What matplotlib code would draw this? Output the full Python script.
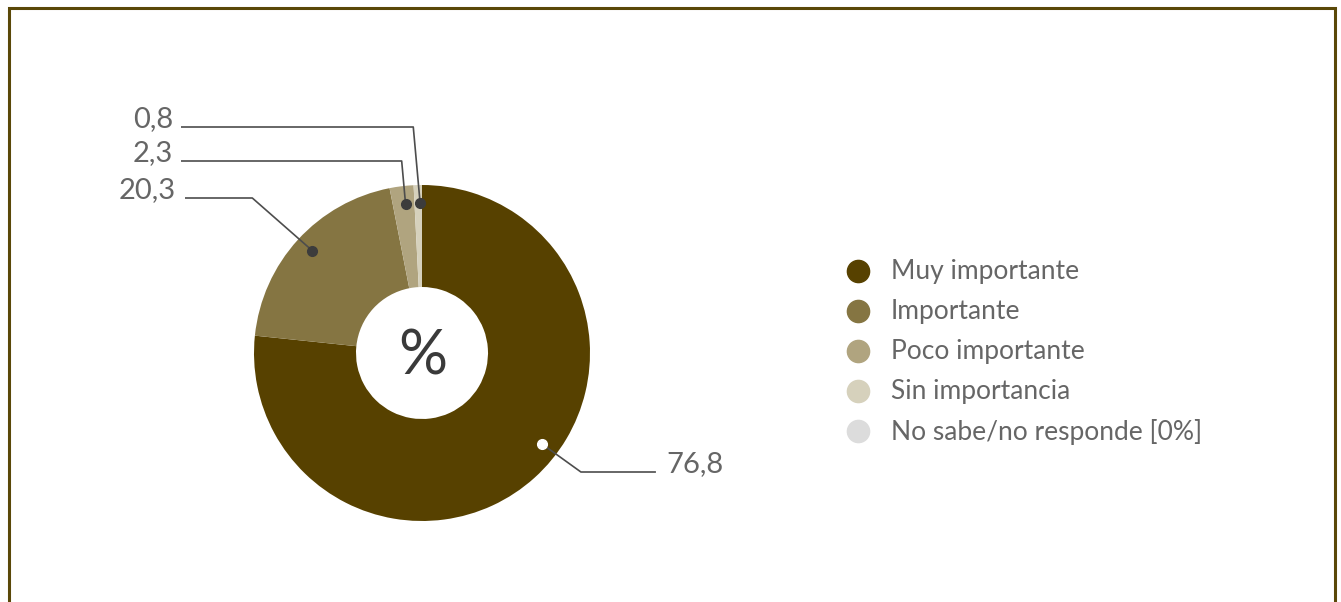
import matplotlib.pyplot as plt
import numpy as np

# survey answers (%)
categorias = ["Muy importante", "Importante", "Poco importante",
              "Sin importancia", "No sabe/no responde [0%]"]
valores = [76.8, 20.3, 2.3, 0.8, 0.0]
etiquetas = ["76,8", "20,3", "2,3", "0,8"]
colores = ["#574100", "#857542", "#b0a47f", "#d6d1bc", "#dcdcdc"]

W, H = 1341, 602
fig = plt.figure(figsize=(W / 100, H / 100), dpi=100)
ax = fig.add_axes([0, 0, 1, 1])

cx, cy = 422, H - 353
radio = 168
hueco = 66

ax.pie(valores, colors=colores, startangle=90, counterclock=False,
       radius=radio, center=(cx, cy),
       wedgeprops=dict(width=radio - hueco, linewidth=0))

ax.text(cx + 1, cy - 4, "%", ha="center", va="center", fontsize=44,
        color="#3a3a3a", family="Lato")

# leader lines: dot in the ring, elbow, horizontal run, label
r_punto = 150
pos_en_sector = [0.46, 0.5, 0.5, 0.5]
codo_y = [472, 198, 161, 127]
acum = np.cumsum([0] + valores[:-1])
txt_color = "#666666"
linea = "#4d4d4d"
for i, lab in enumerate(etiquetas):
    f = acum[i] + valores[i] * pos_en_sector[i]
    ang = np.deg2rad(90 - f / 100 * 360)
    px = cx + r_punto * np.cos(ang)
    py = cy + r_punto * np.sin(ang)
    ey = H - codo_y[i]
    if i == 0:
        ex = px + (py - ey) * 1.39
        xs = [px, ex, ex + 75]
        tx, ha = ex + 85, "left"
    elif i == 1:
        ex = px - (ey - py) * 1.14
        xs = [px, ex, 185]
        tx, ha = 176, "right"
    else:
        xs = [px, px - (ey - py) * 0.09, 181]
        tx, ha = 173, "right"
    ys = [py, ey, ey]
    ax.plot(xs, ys, color=linea, lw=1.2, solid_capstyle="butt", zorder=3)
    fc = "white" if i == 0 else "#3c3c3c"
    ax.plot(px, py, "o", ms=7, mfc=fc, mec=fc, zorder=4)
    ax.text(tx, ey, lab, ha=ha, va="baseline",
            fontsize=21, color=txt_color, family="Lato")

# legend
ley_x, ley_y0, paso = 858, 271, 40
for i, (cat, col) in enumerate(zip(categorias, colores)):
    y = H - (ley_y0 + i * paso)
    ax.plot(ley_x, y, "o", ms=16, mfc=col, mec=col)
    ax.text(ley_x + 33, y - 1, cat, ha="left", va="center", fontsize=19,
            color=txt_color, family="Lato")

# frame open at the bottom
marco = "#5a4808"
ax.plot([9, 9, 1335, 1335], [-5, H - 8, H - 8, -5], color=marco, lw=2.2,
        solid_joinstyle="miter")

ax.set_xlim(0, W)
ax.set_ylim(0, H)
ax.set_aspect("equal")
ax.axis("off")

fig.savefig("out.png", dpi=100)
